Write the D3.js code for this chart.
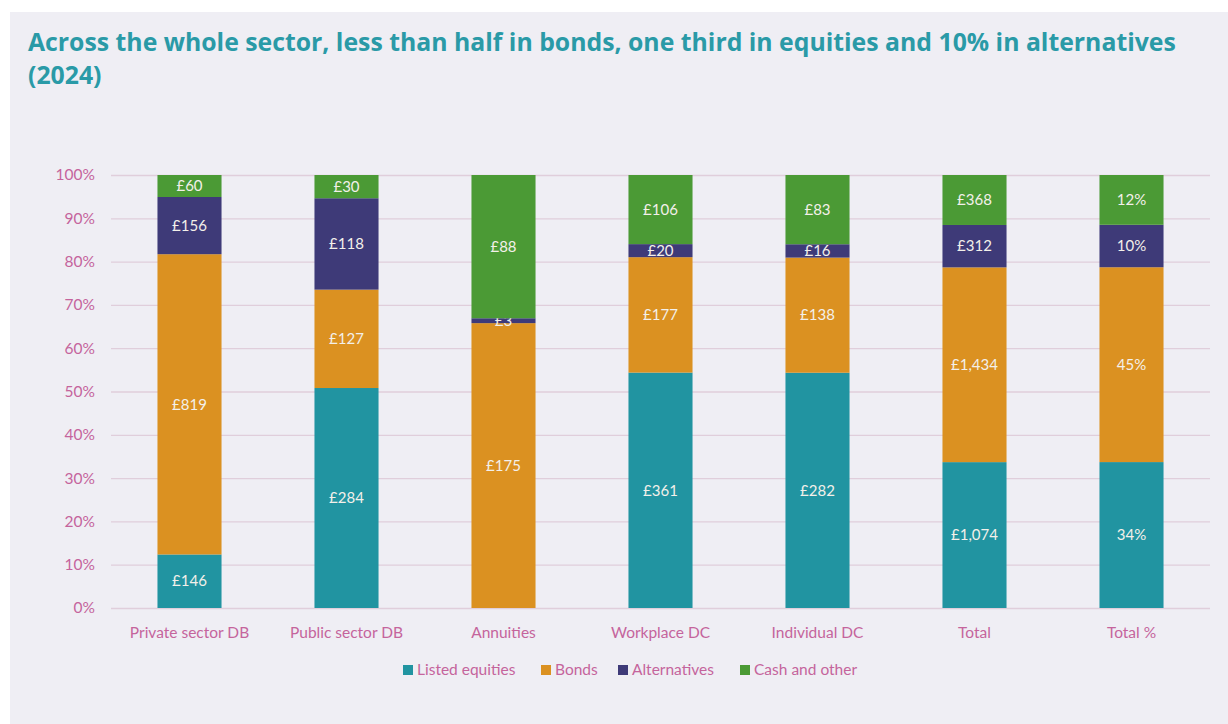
<!DOCTYPE html>
<html>
<head>
<meta charset="utf-8">
<script src="https://cdn.jsdelivr.net/npm/d3@7"></script>
<style>
  body { margin: 0; background: #ffffff; }
  svg { display: block; }
</style>
</head>
<body>
<div id="chart"></div>
<script>
// Data (£bn, 2024)
const categories = ["Private sector DB", "Public sector DB", "Annuities", "Workplace DC", "Individual DC", "Total", "Total %"];
const seriesNames = ["Listed equities", "Bonds", "Alternatives", "Cash and other"];
const listedEquities = [146, 284, 0, 361, 282, 1074, 33.7];
const bonds = [819, 127, 175, 177, 138, 1434, 45.0];
const alternatives = [156, 118, 3, 20, 16, 312, 9.8];
const cashOther = [60, 30, 88, 106, 83, 368, 11.5];
const yTicks = [0, 0.1, 0.2, 0.3, 0.4, 0.5, 0.6, 0.7, 0.8, 0.9, 1];

const colors = ["#2194a1", "#db9121", "#3e3a78", "#4b9a35"];
const seriesValues = [listedEquities, bonds, alternatives, cashOther];

// Build the table that d3.stack needs
const table = categories.map((c, i) => {
    const row = { category: c };
    seriesNames.forEach((s, j) => { row[s] = seriesValues[j][i]; });
    return row;
});

const W = 1228, H = 724;
const margin = { top: 175, right: 18, bottom: 116, left: 111 },
      width = W - margin.left - margin.right,
      height = H - margin.top - margin.bottom;

const labelFont = "Lato, 'Open Sans', sans-serif";
const pink = "#c5649c";

const svg = d3.select("#chart")
    .append("svg")
    .attr("width", W)
    .attr("height", H);

// panel background
svg.append("rect")
    .attr("x", 10).attr("y", 12)
    .attr("width", W - 10).attr("height", H - 12)
    .attr("fill", "#efeef4");

// title
const title = svg.append("text")
    .attr("font-family", "'Open Sans', sans-serif")
    .attr("font-weight", 700)
    .attr("font-size", 24.8)
    .attr("fill", "#2a9aa7");
title.append("tspan").attr("x", 28).attr("y", 51)
    .text("Across the whole sector, less than half in bonds, one third in equities and 10% in alternatives");
title.append("tspan").attr("x", 28).attr("y", 84).text("(2024)");

const g = svg.append("g")
    .attr("transform", `translate(${margin.left},${margin.top})`);

// Scales
const x = d3.scaleBand()
    .domain(categories)
    .range([0, width])
    .paddingInner(0.592)
    .paddingOuter(0.296);
const y = d3.scaleLinear()
    .domain([0, 1])
    .range([height, 0]);

// gridlines + y axis
const yAxis = g.append("g")
    .call(d3.axisLeft(y).tickValues(yTicks).tickFormat(d3.format(".0%")).tickSize(-width).tickPadding(16));
yAxis.select(".domain").remove();
yAxis.selectAll(".tick line").attr("stroke", "#e0cedb").attr("stroke-width", 1.3);
yAxis.selectAll(".tick text")
    .attr("fill", pink)
    .attr("font-family", labelFont)
    .attr("font-size", 15.5);

// x axis labels
const xAxis = g.append("g")
    .attr("transform", `translate(0,${height})`)
    .call(d3.axisBottom(x).tickSize(0).tickPadding(19));
xAxis.select(".domain").remove();
xAxis.selectAll(".tick text")
    .attr("fill", pink)
    .attr("font-family", labelFont)
    .attr("font-size", 15.5);

// stacked, normalised to 100%
const stacked = d3.stack()
    .keys(seriesNames)
    .offset(d3.stackOffsetExpand)(table);

const layers = g.selectAll(".layer")
    .data(stacked)
    .enter().append("g")
    .attr("class", "layer")
    .attr("fill", (d, i) => colors[i]);

layers.selectAll("rect")
    .data(d => d)
    .enter().append("rect")
    .attr("x", d => x(d.data.category))
    .attr("y", d => y(d[1]))
    .attr("width", x.bandwidth())
    .attr("height", d => y(d[0]) - y(d[1]));

// value labels
const fmtMoney = v => "£" + d3.format(",")(v);
layers.selectAll("text")
    .data(d => d.map(p => ({ p, key: d.key })))
    .enter().append("text")
    .filter(d => d.p.data[d.key] > 0)
    .attr("x", d => x(d.p.data.category) + x.bandwidth() / 2)
    .attr("y", d => (y(d.p[0]) + y(d.p[1])) / 2)
    .attr("dy", "0.35em")
    .attr("text-anchor", "middle")
    .attr("fill", "#f3f0ea")
    .attr("font-family", labelFont)
    .attr("font-size", 15)
    .text(d => d.p.data.category === "Total %"
        ? Math.round(d.p.data[d.key]) + "%"
        : fmtMoney(d.p.data[d.key]));

// legend
const legendX = [403, 541, 618, 740];
const legend = svg.append("g").attr("transform", "translate(0,670)");
seriesNames.forEach((s, i) => {
    legend.append("rect")
        .attr("x", legendX[i]).attr("y", -5)
        .attr("width", 10).attr("height", 10)
        .attr("fill", colors[i]);
    legend.append("text")
        .attr("x", legendX[i] + 14).attr("y", 0)
        .attr("dy", "0.35em")
        .attr("fill", pink)
        .attr("font-family", labelFont)
        .attr("font-size", 15.5)
        .text(s);
});
</script>
</body>
</html>
